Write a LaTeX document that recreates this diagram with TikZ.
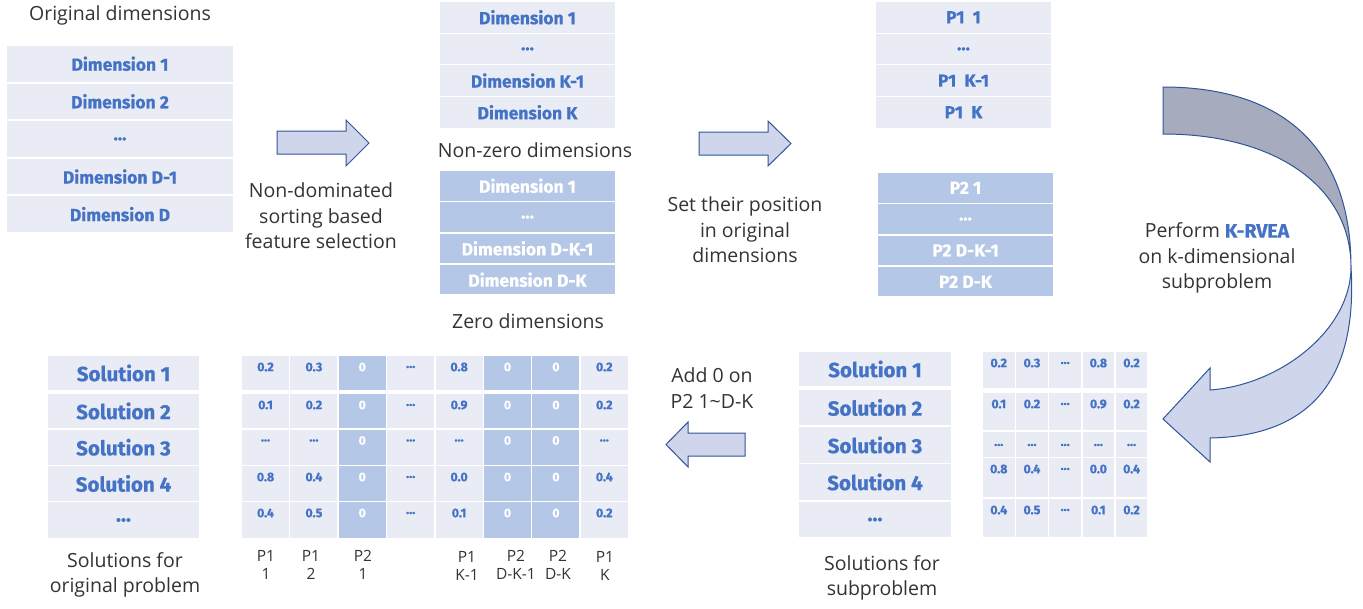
\documentclass[tikz,border=0pt]{standalone}
\usepackage{fontspec}
\setmainfont{Open Sans}
\newfontfamily\boxfam{Fira Sans}[BoldFeatures={FakeBold=0.6}]
\definecolor{lightfill}{HTML}{E9EBF5}
\definecolor{darkfill}{HTML}{B4C7E7}
\definecolor{txtblue}{HTML}{4472C4}
\definecolor{txtgray}{HTML}{333333}
\definecolor{arrowline}{HTML}{2F5597}
\definecolor{arrowfill}{HTML}{CFD5EA}
\definecolor{arrowdark}{HTML}{A6ABBD}
\tikzset{
  cell/.style={draw=none, inner sep=0pt, outer sep=0pt, anchor=north west},
  lt/.style={cell, fill=lightfill, text=txtblue},
  dk/.style={cell, fill=darkfill, text=white},
  dimfont/.style={font=\boxfam\bfseries\fontsize{17.5}{20}\selectfont},
  solfont/.style={font=\boxfam\bfseries\fontsize{20.5}{24}\selectfont},
  gridfont/.style={font=\boxfam\bfseries\fontsize{12.5}{14}\selectfont},
  lbl/.style={font=\fontsize{19.5}{25.5}\selectfont, text=txtgray, align=center},
  collbl/.style={font=\fontsize{15.5}{18.5}\selectfont, text=txtgray, align=center},
  blockarrow/.style={draw=arrowline, line width=1pt, fill=arrowfill, line join=miter},
  mcol1/.style={lt}, mcol2/.style={lt}, mcol3/.style={dk}, mcol4/.style={lt},
  mcol5/.style={lt}, mcol6/.style={dk}, mcol7/.style={dk}, mcol8/.style={lt},
  mtx1/.style={text=txtblue}, mtx2/.style={text=txtblue}, mtx3/.style={text=white}, mtx4/.style={text=txtblue},
  mtx5/.style={text=txtblue}, mtx6/.style={text=white}, mtx7/.style={text=white}, mtx8/.style={text=txtblue},
}
\begin{document}
\begin{tikzpicture}[x=1pt,y=-1pt]
\useasboundingbox (0,0) rectangle (1363,608);

% ---------- Original dimensions ----------
\node[lbl] (origtitle) at (120,15) {Original dimensions};
\foreach \t [count=\i] in {Dimension 1,Dimension 2,…,Dimension D-1,Dimension D} {
  \node[lt, dimfont, minimum width=226pt, minimum height=35.5pt] (od-\i) at (7,{46+37.6*(\i-1)}) {\t};
}

% arrow 1
\draw[blockarrow] (277,131) -- (346,131) -- (346,120) -- (369,143) -- (346,166) -- (346,154) -- (277,154) -- cycle;
\node[lbl] (ndsort) at (321,216) {Non-dominated\\sorting based\\feature selection};

% ---------- Non-zero / zero dimensions ----------
\foreach \t [count=\i] in {Dimension 1,…,Dimension K-1,Dimension K} {
  \node[lt, dimfont, minimum width=175pt, minimum height=30.5pt] (nz-\i) at (440,{2+31.67*(\i-1)}) {\t};
}
\node[lbl] (nzlbl) at (535,150) {Non-zero dimensions};
\foreach \t [count=\i] in {Dimension 1,…,Dimension D-K-1,Dimension D-K} {
  \node[dk, dimfont, minimum width=175pt, minimum height=29.5pt] (z-\i) at (440,{171+31.33*(\i-1)}) {\t};
}
\node[lbl] (zlbl) at (528,321) {Zero dimensions};

% arrow 2
\draw[blockarrow] (699,132) -- (768,132) -- (768,121) -- (791,143.5) -- (768,166) -- (768,155) -- (699,155) -- cycle;
\node[lbl] (setpos) at (745,230) {Set their position\\in original\\dimensions};

% ---------- P1 / P2 ----------
\foreach \t [count=\i] in {P1\ \ 1,…,P1\ \ K-1,P1\ \ K} {
  \node[lt, dimfont, minimum width=175pt, minimum height=30.5pt] (p1-\i) at (876,{2+31.67*(\i-1)}) {\t};
}
\foreach \t [count=\i] in {P2 1,…,P2 D-K-1,P2 D-K} {
  \node[dk, dimfont, minimum width=175pt, minimum height=29.5pt] (p2-\i) at (878,{173+31.33*(\i-1)}) {\t};
}

% ---------- curved arrow ----------
\fill[arrowdark, draw=arrowline, line width=1pt]
  (1163,87) .. controls (1285,87) and (1351,150) .. (1351,267)
  .. controls (1351,187) and (1276,134) .. (1163,134) -- cycle;
\fill[arrowfill, draw=arrowline, line width=1pt, line join=miter]
  (1351,267) .. controls (1358,380) and (1310,436) .. (1210,438)
  -- (1210,462) -- (1163,419) -- (1210,368) -- (1210,390)
  .. controls (1280,385) and (1351,330) .. (1351,267) -- cycle;
\node[lbl] (perform) at (1217,258) {Perform {\boxfam\bfseries\color{txtblue}K-RVEA}\\on k-dimensional\\subproblem};

% ---------- Solutions for original problem ----------
\foreach \t/\tp/\h [count=\i] in {Solution 1/356/34,Solution 2/394/34,Solution 3/429.5/35.5,Solution 4/466/35,…/502/36} {
  \node[lt, solfont, minimum width=151pt, minimum height=\h pt] (so-\i) at (48,\tp) {\t};
}
\node[lbl] (solorig) at (125,575) {Solutions for\\original problem};

% ---------- expanded grid ----------
\foreach \r/\tp/\h/\vals in {
  1/356/34/{0.2,0.3,0,…,0.8,0,0,0.2},
  2/394/34/{0.1,0.2,0,…,0.9,0,0,0.2},
  3/429.5/35.5/{…,…,0,…,…,0,0,…},
  4/466/35/{0.8,0.4,0,…,0.0,0,0,0.4},
  5/502/36/{0.4,0.5,0,…,0.1,0,0,0.2}} {
  \foreach \v [count=\c] in \vals {
    \node[mcol\c, minimum width=47pt, minimum height=\h pt] (m-\r-\c) at ({242+48.4*(\c-1)},\tp) {};
    \node[gridfont, mtx\c, inner sep=0pt] (mt-\r-\c) at ([yshift=-11pt]m-\r-\c.north) {\v};
  }
}
\node[collbl] (cl1) at (266,565) {P1\\1};
\node[collbl] (cl2) at (311,565) {P1\\2};
\node[collbl] (cl3) at (363,565) {P2\\1};
\node[collbl] (cl5) at (467,566) {P1\\K-1};
\node[collbl] (cl6) at (516,565) {P2\\D-K-1};
\node[collbl] (cl7) at (558,565) {P2\\D-K};
\node[collbl] (cl8) at (605,566) {P1\\K};

% arrow 3
\draw[blockarrow] (745,433) -- (688,433) -- (688,422) -- (666,444.5) -- (688,467) -- (688,456) -- (745,456) -- cycle;
\node[lbl] (addzero) at (712,388) {Add 0 on\\P2 1\textasciitilde D-K};

% ---------- Solutions for subproblem ----------
\foreach \t/\tp/\h [count=\i] in {Solution 1/352/34,Solution 2/390/35,Solution 3/427/36,Solution 4/464/36,…/502/35} {
  \node[lt, solfont, minimum width=152pt, minimum height=\h pt] (ss-\i) at (799,\tp) {\t};
}
\node[lbl] (solsub) at (882,578) {Solutions for\\subproblem};

% ---------- sub grid ----------
\foreach \r/\tp/\h/\dy/\vals in {
  1/352/36/11/{0.2,0.3,…,0.8,0.2},
  2/393/37/11/{0.1,0.2,…,0.9,0.2},
  3/432/25/13/{…,…,…,…,…},
  4/458/39/11/{0.8,0.4,…,0.0,0.4},
  5/499/38/11/{0.4,0.5,…,0.1,0.2}} {
  \foreach \v [count=\c] in \vals {
    \node[lt, minimum width=31.5pt, minimum height=\h pt] (s-\r-\c) at ({983+33.2*(\c-1)},\tp) {};
    \node[gridfont, text=txtblue, inner sep=0pt] (st-\r-\c) at ([yshift=-\dy pt]s-\r-\c.north) {\v};
  }
}
\end{tikzpicture}
\end{document}
